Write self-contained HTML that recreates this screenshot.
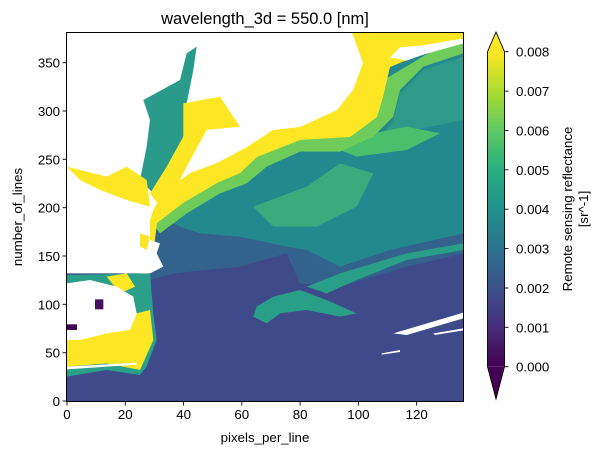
<!DOCTYPE html>
<html><head><meta charset="utf-8"><style>
html,body{margin:0;padding:0;background:#fff;}
svg{display:block;font-family:"Liberation Sans","DejaVu Sans",sans-serif;}
</style></head><body>
<svg width="600" height="455" viewBox="0 0 600 455" xmlns="http://www.w3.org/2000/svg">
<defs>
<clipPath id="c"><rect x="79" y="37" width="1191" height="1108"/></clipPath>
<linearGradient id="vir" x1="0" y1="1" x2="0" y2="0">
<stop offset="0" stop-color="#440154"/><stop offset="0.125" stop-color="#472d7b"/>
<stop offset="0.25" stop-color="#3b528b"/><stop offset="0.375" stop-color="#2c728e"/>
<stop offset="0.5" stop-color="#21918c"/><stop offset="0.625" stop-color="#28ae80"/>
<stop offset="0.75" stop-color="#5ec962"/><stop offset="0.875" stop-color="#addc30"/>
<stop offset="1" stop-color="#fde725"/></linearGradient>
</defs>
<text x="265" y="24" font-size="16.5" text-anchor="middle">wavelength_3d = 550.0 [nm]</text>
<g transform="translate(40,20) scale(0.33333)">
<g clip-path="url(#c)">
<rect x="79" y="37" width="1191" height="1108" fill="#3e4a89"/>
<polygon fill="#33638d" points="330,560 600,420 1270,100 1270,700 1100,740 900,800 780,790 740,700 600,740 400,760 330,780"/>
<polygon fill="#23898e" points="330,560 600,420 780,330 1000,150 1270,37 1270,640 1050,690 900,740 800,690 740,680 600,650 480,640 420,620 380,600"/>
<polygon fill="#2f9a89" points="1270,110 1150,150 1080,220 1060,300 1000,380 1120,330 1270,300"/>
<polygon fill="#3bab7e" points="640,560 800,500 900,430 1000,460 950,560 830,620 700,620"/>
<polygon fill="#4cbf6c" points="850,370 1000,340 1100,320 1200,340 1100,390 950,410"/>
<polygon fill="#2a9f88" points="650,860 700,830 780,810 860,840 950,880 900,890 800,870 720,880 680,910 640,890"/>
<polygon fill="#2a9f88" points="800,800 900,760 1100,700 1270,670 1270,690 1100,720 950,780 860,820"/>
<polygon fill="#6fcc5a" points="1270,37 1270,100 1150,140 1080,210 1060,290 1000,350 900,395 780,395 680,440 620,490 540,520 440,580 360,640 330,600"/>
<polygon fill="#fde725" points="900,37 1270,37 1270,54 1150,100 1050,141 1029,231 1011,291 930,351 780,360 651,411 600,459 531,489 429,549 351,609 340,700 330,760 300,760 300,37"/>
<polygon fill="#fff" points="1050,112 1080,82 1150,76 1230,62 1270,56 1270,70 1150,104 1100,122"/>
<polygon fill="#fff" points="79,37 936,37 969,129 939,210 891,270 780,321 699,330 621,381 531,429 450,459 369,519 340,570 330,600 330,660 360,670 350,700 370,740 330,760 79,760"/>
<polygon fill="#2a9a8a" points="310,240 420,180 440,100 470,80 460,150 440,250 430,350 380,460 340,520 300,480 320,380 330,300"/>
<polygon fill="#fde725" points="430,250 540,230 600,320 500,330 440,440 400,520 360,560 330,520 380,440 430,350"/>
<polygon fill="#fde725" points="80,440 200,470 260,440 320,480 330,560 260,540 180,510 120,480"/>
<polygon fill="#fde725" points="300,640 330,650 320,690 300,680"/>
<polygon fill="#2aa08a" points="79,765 330,760 340,880 350,960 320,1040 300,1065 200,1050 79,1070"/>
<polygon fill="#fde725" points="200,770 260,760 285,800 240,820"/>
<polygon fill="#fde725" points="79,950 200,920 290,880 330,870 340,960 300,1050 200,1030 79,1040"/>
<polygon fill="#fff" points="80,790 150,780 230,800 280,830 290,880 270,930 200,940 120,960 80,960"/>
<polygon fill="#fff" points="79,1040 290,1028 290,1034 79,1048"/>
<rect x="79" y="913" width="32" height="17" fill="#440154"/>
<rect x="165" y="838" width="25" height="30" fill="#45125f"/>
<polygon fill="#fff" points="1060,940 1270,878 1270,895 1100,945"/>
<polygon fill="#fff" points="1180,940 1270,925 1270,931 1185,945"/>
<polygon fill="#fff" points="1025,1000 1080,990 1080,996 1025,1004"/>
</g>
</g>
<rect x="66.5" y="32.5" width="397" height="369" fill="none" stroke="#000" stroke-width="1"/>
<g stroke="#000" stroke-width="0.9">
<line x1="67" y1="402" x2="67" y2="405.5"/><line x1="125.3" y1="402" x2="125.3" y2="405.5"/>
<line x1="183.6" y1="402" x2="183.6" y2="405.5"/><line x1="241.8" y1="402" x2="241.8" y2="405.5"/>
<line x1="300.1" y1="402" x2="300.1" y2="405.5"/><line x1="358.4" y1="402" x2="358.4" y2="405.5"/>
<line x1="416.7" y1="402" x2="416.7" y2="405.5"/>
<line x1="62.5" y1="401" x2="66" y2="401"/><line x1="62.5" y1="352.7" x2="66" y2="352.7"/>
<line x1="62.5" y1="304.3" x2="66" y2="304.3"/><line x1="62.5" y1="256" x2="66" y2="256"/>
<line x1="62.5" y1="207.7" x2="66" y2="207.7"/><line x1="62.5" y1="159.3" x2="66" y2="159.3"/>
<line x1="62.5" y1="111" x2="66" y2="111"/><line x1="62.5" y1="62.7" x2="66" y2="62.7"/>
</g>
<g font-size="13.3" text-anchor="middle">
<text x="67" y="419">0</text><text x="125.3" y="419">20</text><text x="183.6" y="419">40</text>
<text x="241.8" y="419">60</text><text x="300.1" y="419">80</text><text x="358.4" y="419">100</text>
<text x="416.7" y="419">120</text>
</g>
<g font-size="13.3" text-anchor="end">
<text x="60" y="406">0</text><text x="60" y="357.7">50</text><text x="60" y="309.3">100</text>
<text x="60" y="261">150</text><text x="60" y="212.7">200</text><text x="60" y="164.3">250</text>
<text x="60" y="116">300</text><text x="60" y="67.7">350</text>
</g>
<text x="265" y="442" font-size="13.3" text-anchor="middle">pixels_per_line</text>
<text transform="translate(22,217) rotate(-90)" font-size="13.3" text-anchor="middle">number_of_lines</text>
<rect x="487.5" y="51.7" width="17" height="315" fill="url(#vir)"/>
<polygon points="487.5,51.7 496,32 504.5,51.7" fill="#fde725"/>
<polygon points="487.5,366.7 496,399 504.5,366.7" fill="#440154"/>
<polygon points="487.5,51.7 496,32 504.5,51.7 504.5,366.7 496,399 487.5,366.7" fill="none" stroke="#000" stroke-width="0.9"/>
<g stroke="#000" stroke-width="0.9">
<line x1="505" y1="51.7" x2="508.5" y2="51.7"/><line x1="505" y1="91.1" x2="508.5" y2="91.1"/>
<line x1="505" y1="130.5" x2="508.5" y2="130.5"/><line x1="505" y1="169.8" x2="508.5" y2="169.8"/>
<line x1="505" y1="209.2" x2="508.5" y2="209.2"/><line x1="505" y1="248.6" x2="508.5" y2="248.6"/>
<line x1="505" y1="288" x2="508.5" y2="288"/><line x1="505" y1="327.3" x2="508.5" y2="327.3"/>
<line x1="505" y1="366.7" x2="508.5" y2="366.7"/>
</g>
<g font-size="13.3">
<text x="516" y="56.7">0.008</text><text x="516" y="96.1">0.007</text><text x="516" y="135.5">0.006</text>
<text x="516" y="174.8">0.005</text><text x="516" y="214.2">0.004</text><text x="516" y="253.6">0.003</text>
<text x="516" y="293">0.002</text><text x="516" y="332.3">0.001</text><text x="516" y="371.7">0.000</text>
</g>
<text transform="translate(572,209) rotate(-90)" font-size="13.3" text-anchor="middle">Remote sensing reflectance</text>
<text transform="translate(588,209) rotate(-90)" font-size="13.3" text-anchor="middle">[sr^-1]</text>
</svg>
</body></html>
